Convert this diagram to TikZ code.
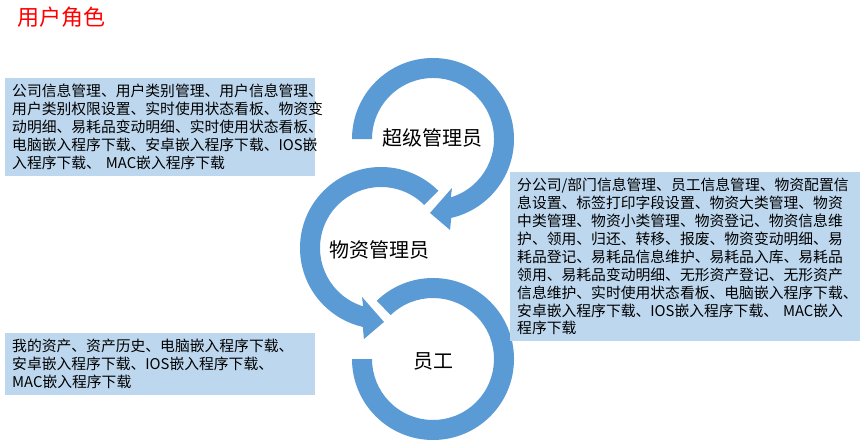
\documentclass[tikz,border=0pt]{standalone}
\usepackage{fontspec}
\setmainfont{Noto Sans CJK SC}
\usepackage{tikz}
\usetikzlibrary{calc}
\usepackage{xcolor}
\definecolor{ringblue}{HTML}{5B9BD5}
\definecolor{boxblue}{HTML}{BDD7EE}
\definecolor{titlered}{HTML}{FF0000}
\tikzset{
  ringarrow/.style={
    fill=ringblue,
    draw=none
  },
  rolelabel/.style={
    inner sep=0pt,
    font=\fontsize{20}{24}\selectfont
  },
  infobox/.style={
    fill=boxblue,
    draw=none,
    anchor=north west,
    align=left,
    inner xsep=7pt,
    inner ysep=6pt,
    font=\fontsize{14.8}{17.9}\selectfont
  }
}

\begin{document}
\begin{tikzpicture}[x=1pt, y=-1pt]
\path[use as bounding box, fill=white] (0,0) rectangle (867,447);
\node[anchor=west, inner sep=0pt, text=titlered, font=\fontsize{22}{26}\selectfont] (title) at (17,17) {用户角色};
% ring centres
\coordinate (c1) at (433,139);
\coordinate (c2) at (381,248);
\coordinate (c3) at (433,359);
% circular arrows
\fill[ringarrow] (c1) ++(180:81) arc[start angle=180, end angle=437, radius=81]
  -- ($(c1)+(79.4:92.6)$) -- ($(c1)+(92.3:74)$) -- ($(c1)+(68.8:52.5)$)
  -- ($(c1)+(433:61)$) arc[start angle=433, end angle=180, radius=61] -- cycle;
\fill[ringarrow] (c2) ++(315:81) arc[start angle=315, end angle=103, radius=81]
  -- ($(c2)+(100.6:92.6)$) -- ($(c2)+(87.7:74)$) -- ($(c2)+(111.2:52.5)$)
  -- ($(c2)+(107:61)$) arc[start angle=107, end angle=315, radius=61] -- cycle;
\fill[ringarrow] (c3) ++(180:81) arc[start angle=180, end angle=-134, radius=81]
  -- ($(c3)+(-134:61)$) arc[start angle=-134, end angle=180, radius=61] -- cycle;
% role names
\node[rolelabel] (super) at (432,138) {超级管理员};
\node[rolelabel] (asset) at (379,250) {物资管理员};
\node[rolelabel] (staff) at (433,361) {员工};
% permission boxes
\node[infobox, text width=296pt] (superbox) at (5,78) {公司信息管理、用户类别管理、用户信息管理、\\
用户类别权限设置、实时使用状态看板、物资变\\
动明细、易耗品变动明细、实时使用状态看板、\\
电脑嵌入程序下载、安卓嵌入程序下载、IOS嵌\\
入程序下载、 MAC嵌入程序下载};
\node[infobox, text width=336pt] (assetbox) at (510,172) {分公司/部门信息管理、员工信息管理、物资配置信\\
息设置、标签打印字段设置、物资大类管理、物资\\
中类管理、物资小类管理、物资登记、物资信息维\\
护、领用、归还、转移、报废、物资变动明细、易\\
耗品登记、易耗品信息维护、易耗品入库、易耗品\\
领用、易耗品变动明细、无形资产登记、无形资产\\
信息维护、实时使用状态看板、电脑嵌入程序下载、\\
安卓嵌入程序下载、IOS嵌入程序下载、 MAC嵌入\\
程序下载};
\node[infobox, text width=296pt] (staffbox) at (5,333) {我的资产、资产历史、电脑嵌入程序下载、\\
安卓嵌入程序下载、IOS嵌入程序下载、\\
MAC嵌入程序下载};
\end{tikzpicture}
\end{document}
